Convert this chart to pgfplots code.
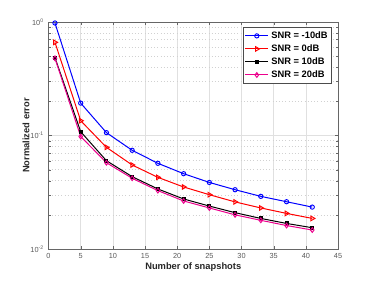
\documentclass[border=0pt]{standalone}
\usepackage{pgfplots}
\pgfplotsset{compat=1.18}
\usepackage{fontspec}
\setmainfont{Liberation Sans}
\begin{document}
\begin{tikzpicture}
\path[use as bounding box] (-36.4pt,-23.25pt) rectangle (244.1pt,186.75pt);
\begin{axis}[
  at={(0,0)}, anchor=south west,
  scale only axis, width=217.1pt, height=170.25pt,
  xmin=0, xmax=45, ymin=0.01, ymax=1,
  ymode=log,
  xtick={0,5,...,45},
  ytick={0.01,0.1,1},
  yticklabels={10\textsuperscript{-2},10\textsuperscript{-1},10\textsuperscript{0}},
  /pgf/number format/assume math mode=true,
  tick label style={font=\fontsize{5.5}{6}\selectfont, text=black!65},
  tick align=inside,
  axis line style={black!60, line width=0.4pt},
  major tick style={black!60},
  minor tick style={black!60},
  major tick length=2.5pt, minor tick length=1.5pt,
  grid=both,
  major grid style={black!12, line width=0.4pt},
  minor grid style={black!18, dotted, line width=0.4pt},
  minor x tick num=0,
  xlabel={\bfseries Number of snapshots},
  ylabel={\bfseries Normalized error},
  label style={font=\fontsize{7}{8}\selectfont\bfseries, text=black!85},
  xlabel style={at={(axis description cs:0.5,-0.079)}, anchor=center},
  ylabel style={at={(axis description cs:-0.0777,0.5)}, anchor=center},
  legend style={at={(axis description cs:0.979,0.977)}, anchor=north east,
    font=\fontsize{7}{7.5}\selectfont\bfseries, draw=black!70, line width=0.4pt,
    inner sep=1pt, row sep=-0.8pt, fill=white},
  legend cell align=left,
]
\addplot[blue, line width=0.75pt, mark=o, mark size=1.6pt, mark options={line width=0.7pt}] coordinates {
(1,0.98) (5,0.193) (9,0.106) (13,0.0741) (17,0.0569) (21,0.0461) (25,0.0386) (29,0.0333) (33,0.0291) (37,0.0261) (41,0.0234)};
\addlegendentry{SNR = -10dB}
\addplot[red, line width=0.75pt, mark=triangle, mark size=2pt, mark options={rotate=-90, line width=0.7pt}] coordinates {
(1,0.662) (5,0.135) (9,0.0787) (13,0.055) (17,0.0428) (21,0.0352) (25,0.0301) (29,0.0260) (33,0.0230) (37,0.0206) (41,0.0186)};
\addlegendentry{SNR = 0dB}
\addplot[black, line width=0.75pt, mark=square*, mark size=1.1pt] coordinates {
(1,0.485) (5,0.108) (9,0.060) (13,0.0434) (17,0.0338) (21,0.0276) (25,0.0239) (29,0.0209) (33,0.0186) (37,0.0168) (41,0.0154)};
\addlegendentry{SNR = 10dB}
\addplot[magenta, line width=0.75pt, mark=diamond, mark size=1.8pt, mark options={line width=0.7pt}] coordinates {
(1,0.479) (5,0.098) (9,0.0576) (13,0.042) (17,0.0327) (21,0.0265) (25,0.0230) (29,0.0200) (33,0.0179) (37,0.0161) (41,0.0147)};
\addlegendentry{SNR = 20dB}
\end{axis}
\end{tikzpicture}
\end{document}
